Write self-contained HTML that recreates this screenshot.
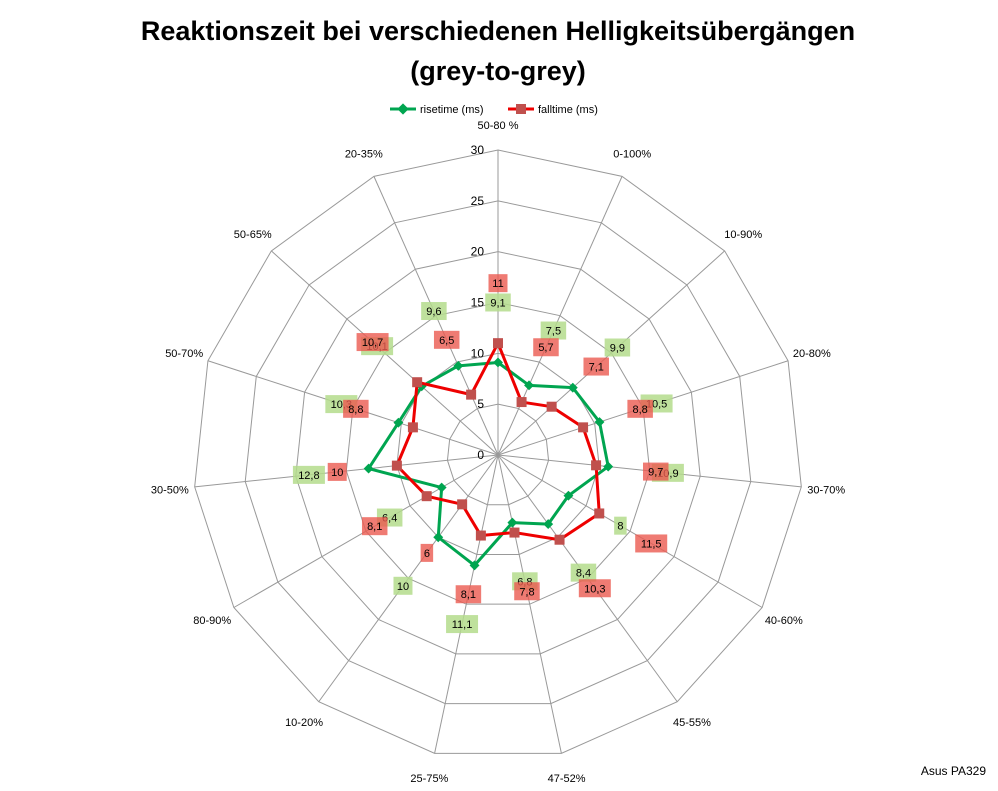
<!DOCTYPE html>
<html><head><meta charset="utf-8"><style>
body{margin:0;background:#fff;}
svg text{font-family:"Liberation Sans",sans-serif;}
</style></head><body>
<svg id="c" width="998" height="786" viewBox="0 0 998 786" xmlns="http://www.w3.org/2000/svg">
<text x="498" y="40" text-anchor="middle" font-size="27" font-weight="bold">Reaktionszeit bei verschiedenen Helligkeitsübergängen</text>
<text x="498" y="80" text-anchor="middle" font-size="27" font-weight="bold">(grey-to-grey)</text>
<g>
<g><line x1="390" y1="109" x2="416" y2="109" stroke="#00a550" stroke-width="3"/><rect x="399" y="105" width="8" height="8" fill="#00a550" transform="rotate(45 403 109)"/><text x="420" y="113" font-size="11">risetime (ms)</text></g>
<g><line x1="508" y1="109" x2="534" y2="109" stroke="#e00" stroke-width="3"/><rect x="516" y="104" width="10" height="10" fill="#c0504d"/><text x="538" y="113" font-size="11">falltime (ms)</text></g>
</g>
<text x="986" y="775" text-anchor="end" font-size="12">Asus PA329</text>
<g id="grid"></g><g id="series"></g><g id="labels"></g>
</svg>
<script>
const categories=["50-80 %","0-100%","10-90%","20-80%","30-70%","40-60%","45-55%","47-52%","25-75%","10-20%","80-90%","30-50%","50-70%","50-65%","20-35%"];
const risetime=[9.1,7.5,9.9,10.5,10.9,8,8.4,6.8,11.1,10,6.4,12.8,10.3,10.1,9.6];
const falltime=[11,5.7,7.1,8.8,9.7,11.5,10.3,7.8,8.1,6,8.1,10,8.8,10.7,6.5];
const ticks=[0,5,10,15,20,25,30];
const NS="http://www.w3.org/2000/svg";
const cx=498,cy=455,R=305,maxV=30,n=categories.length;
function ang(i){return -Math.PI/2+i*2*Math.PI/n;}
function pt(i,v){const r=v/maxV*R,a=ang(i);return [cx+r*Math.cos(a),cy+r*Math.sin(a)];}
function ptR(i,r){const a=ang(i);return [cx+r*Math.cos(a),cy+r*Math.sin(a)];}
function mk(tag,attrs,parent){const e=document.createElementNS(NS,tag);for(const k in attrs)e.setAttribute(k,attrs[k]);parent.appendChild(e);return e;}
const grid=document.getElementById('grid'),series=document.getElementById('series'),labels=document.getElementById('labels');
ticks.forEach(t=>{if(t===0)return;const p=categories.map((c,i)=>pt(i,t).join(',')).join(' ');
const g=mk('polygon',{points:p,fill:'none',stroke:'#999','stroke-width':1},grid);

});
categories.forEach((c,i)=>{const p=pt(i,maxV);
const l=mk('line',{x1:cx,y1:cy,x2:p[0],y2:p[1],stroke:'#999','stroke-width':1},grid);


const q=ptR(i,R+25);
const t=mk('text',{x:q[0],y:q[1]+4,'text-anchor':'middle','font-size':11},grid);
t.textContent=c;

});
ticks.forEach(t=>{const p=pt(0,t);
const e=mk('text',{x:p[0]-14,y:p[1]+4,'text-anchor':'end','font-size':12},grid);
e.textContent=t;

});
function drawSeries(vals,color,markColor,diamond,name,bg){
const p=vals.map((v,i)=>pt(i,v));
const pl=mk('polygon',{points:p.map(q=>q.join(',')).join(' '),fill:'none',stroke:color,'stroke-width':3,'stroke-linejoin':'round'},series);


p.forEach((q,i)=>{let m;
if(diamond){m=mk('rect',{x:q[0]-3.5,y:q[1]-3.5,width:7,height:7,fill:markColor,transform:'rotate(45 '+q[0]+' '+q[1]+')'},series);}
else{m=mk('rect',{x:q[0]-5,y:q[1]-5,width:10,height:10,fill:markColor},series);}


const lp=ptR(i,vals[i]/maxV*R+60);
const txt=String(vals[i]).replace('.',',');
const w=txt.length*6.5+6;
const b=mk('rect',{x:lp[0]-w/2,y:lp[1]-9,width:w,height:18,fill:bg},labels);


const t=mk('text',{x:lp[0],y:lp[1]+4,'text-anchor':'middle','font-size':11},labels);
t.textContent=txt;

});}
drawSeries(risetime,'#00a550','#00a550',true,'risetime','rgba(180,220,140,0.85)');
drawSeries(falltime,'#ee0000','#c0504d',false,'falltime','rgba(235,90,80,0.8)');
</script>
</body></html>
